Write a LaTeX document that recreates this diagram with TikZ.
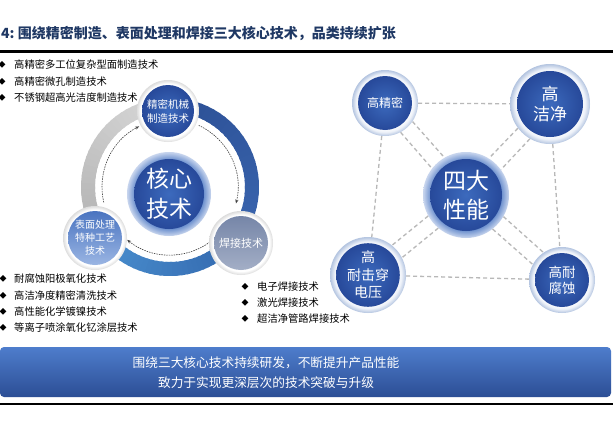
\documentclass[tikz,border=0pt]{standalone}
\usepackage{fontspec}
\newfontfamily\cjk{Noto Sans CJK SC}
\usetikzlibrary{arrows.meta,backgrounds}
\definecolor{navy}{HTML}{1F3864}
\definecolor{haloedge}{HTML}{B3C4E0}
\definecolor{halomid}{HTML}{EEF2F9}
\definecolor{plainedge}{HTML}{DCDCDC}
\definecolor{cc1}{HTML}{5F86C9}
\definecolor{cc2}{HTML}{C9D6EE}
\definecolor{discin}{HTML}{3C6ABD}
\definecolor{discout}{HTML}{27499A}
\definecolor{netgray}{HTML}{B8B8B8}
\definecolor{bannertop}{HTML}{4E7DCC}
\definecolor{bannerbot}{HTML}{2C4E95}
\definecolor{ringblueA}{HTML}{2C4F94}
\definecolor{ringblueB}{HTML}{3A66B0}
\definecolor{ringbotA}{HTML}{3368AE}
\definecolor{ringbotB}{HTML}{4A8FCF}
\definecolor{ringgrayA}{HTML}{B2B2B2}
\definecolor{ringgrayB}{HTML}{D8D8D8}
\definecolor{lctop}{HTML}{4A74C0}
\definecolor{lcbot}{HTML}{9AB5E3}
\definecolor{rctop}{HTML}{7686A8}
\definecolor{rcbot}{HTML}{A3AEC6}
\pgfdeclareradialshading{haloshade}{\pgfpoint{0bp}{0bp}}{color(0bp)=(white); color(19bp)=(white); color(22bp)=(halomid); color(25bp)=(haloedge); color(50bp)=(haloedge)}
\pgfdeclareradialshading{plainshade}{\pgfpoint{0bp}{0bp}}{color(0bp)=(white); color(22bp)=(white); color(25bp)=(plainedge); color(50bp)=(plainedge)}
\pgfdeclareradialshading{coreshade}{\pgfpoint{0bp}{0bp}}{color(0bp)=(cc1); color(20bp)=(cc1); color(25bp)=(cc2); color(50bp)=(cc2)}
\newcommand\gradarc[4]{%
  \foreach \i in {0,...,29}{%
    \pgfmathsetmacro\aa{#1+(#2-#1)*\i/30}%
    \pgfmathsetmacro\ab{min(#2,#1+(#2-#1)*(\i+1.4)/30)}%
    \pgfmathsetmacro\pp{100-\i*100/29}%
    \draw[line width=14pt, color=#3!\pp!#4] (170,187) ++(\aa:82) arc[start angle=\aa, end angle=\ab, radius=82];
  }}
\tikzset{
  fs/.style 2 args={font=\cjk\fontsize{#1}{#2}\selectfont},
  halo/.style={circle, inner sep=0pt, minimum size=#1, shading=haloshade},
  whitehalo/.style={circle, inner sep=0pt, minimum size=#1, shading=plainshade},
  corehalo/.style={circle, inner sep=0pt, minimum size=#1, shading=coreshade},
  disc/.style={circle, inner sep=0pt, minimum size=#1, inner color=discin, outer color=discout, text=white, align=center},
  netline/.style={draw=netgray, line width=1.3pt, dash pattern=on 4pt off 3pt},
  dasharc/.style={draw=black!75, line width=0.6pt, dash pattern=on 1.5pt off 1pt, -{Stealth[length=4pt,width=3.2pt]}},
  bullet/.style={fs={7}{8}, inner sep=0pt},
  item/.style={fs={10.3}{12}, anchor=west, inner sep=0pt},
}
\begin{document}
\begin{tikzpicture}[x=1pt,y=-1pt]
\useasboundingbox (0,0) rectangle (613,423);
\begin{scope}[on background layer]
  \fill[white] (0,0) rectangle (613,423);
\end{scope}
% title
\node[fs={14}{16}, text=navy, anchor=west, inner sep=0pt] (title) at (1,33) {\bfseries 4:\ 围绕精密制造、表面处理和焊接三大核心技术，品类持续扩张};
\draw[line width=2.2pt] (0,51.5) -- (613,51.5);
% ring
\gradarc{-91.5}{38.3}{ringblueA}{ringblueB}
\gradarc{38.3}{145.8}{ringbotA}{ringbotB}
\gradarc{145.8}{268.5}{ringgrayA}{ringgrayB}
% dashed arrows
\draw[dasharc] (170,187) ++(-65:68) arc[start angle=-65, end angle=14, radius=68];
\draw[dasharc] (170,187) ++(54:68) arc[start angle=54, end angle=129, radius=68];
\draw[dasharc] (170,187) ++(167:68) arc[start angle=167, end angle=243, radius=68];
% ring circles
\node[whitehalo=62pt] (TC) at (168,111) {};
\node[disc=52pt, fs={10.5}{14}] (TCt) at (TC) {精密机械\\制造技术};
\node[whitehalo=64pt] (LC) at (95,238) {};
\node[circle, inner sep=0pt, minimum size=54pt, top color=lctop, bottom color=lcbot, text=white, align=center, fs={10}{13}] (LCt) at (LC) {表面处理\\特种工艺\\技术};
\node[whitehalo=64pt] (RC) at (241,243) {};
\node[circle, inner sep=0pt, minimum size=54pt, top color=rctop, bottom color=rcbot, text=white, align=center, fs={11}{13}] (RCt) at (RC) {焊接技术};
\node[corehalo=84pt] (CC) at (169,194) {};
\node[disc=70pt, fs={23}{30}] (CCt) at (CC) {核心\\技术};
% bullet lists
\node[bullet] (b11) at (2,65) {◆};
\node[item] (t11) at (14,65) {高精密多工位复杂型面制造技术};
\node[bullet] (b12) at (2,82) {◆};
\node[item] (t12) at (14,82) {高精密微孔制造技术};
\node[bullet] (b13) at (2,98) {◆};
\node[item] (t13) at (14,98) {不锈钢超高光洁度制造技术};
\node[bullet] (b21) at (3,279) {◆};
\node[item] (t21) at (14,279) {耐腐蚀阳极氧化技术};
\node[bullet] (b22) at (3,296) {◆};
\node[item] (t22) at (14,296) {高洁净度精密清洗技术};
\node[bullet] (b23) at (3,312) {◆};
\node[item] (t23) at (14,312) {高性能化学镀镍技术};
\node[bullet] (b24) at (3,328) {◆};
\node[item] (t24) at (14,328) {等离子喷涂氧化钇涂层技术};
\node[bullet] (b31) at (245,287) {◆};
\node[item] (t31) at (257,287) {电子焊接技术};
\node[bullet] (b32) at (245,303) {◆};
\node[item] (t32) at (257,303) {激光焊接技术};
\node[bullet] (b33) at (245,319) {◆};
\node[item] (t33) at (257,319) {超洁净管路焊接技术};
% network
\node[halo=66pt] (JM) at (385,103) {};
\node[disc=54pt, fs={12}{14}] (JMt) at (JM) {高精密};
\node[halo=80pt] (GJ) at (550,104) {};
\node[disc=66pt, fs={17}{20}] (GJt) at (GJ) {高\\洁净};
\node[corehalo=86pt] (SD) at (466,195) {};
\node[disc=72pt, fs={23}{29}] (SDt) at (SD) {四大\\性能};
\node[halo=76pt] (JC) at (368,275) {};
\node[disc=62pt, fs={14}{17.5}] (JCt) at (JC) {高\\耐击穿\\电压};
\node[halo=66pt] (FS) at (562,280) {};
\node[disc=54pt, fs={13.5}{16}] (FSt) at (FS) {高耐\\腐蚀};
\begin{scope}[on background layer]
  \draw[netline] (JM) -- (GJ);
  \draw[netline] (JM) -- (JC);
  \draw[netline] (GJ) -- (FS);
  \draw[netline] (JC) -- (FS);
  \draw[netline] (JM.-34.6) -- (SD.120.7);
  \draw[netline] (JM.-62.6) -- (SD.142.1);
  \draw[netline] (GJ.-120.9) -- (SD.36.9);
  \draw[netline] (GJ.-143.9) -- (SD.58.3);
  \draw[netline] (SD.-130.1) -- (JC.27.0);
  \draw[netline] (SD.-151.5) -- (JC.51.4);
  \draw[netline] (SD.-30.8) -- (FS.124.5);
  \draw[netline] (SD.-52.2) -- (FS.152.5);
\end{scope}
% banner
\shade[top color=bannertop, bottom color=bannerbot, rounded corners=4pt] (0,347) rectangle (611,397);
\node[fs={12.7}{14}, text=white, inner sep=0pt] (ban1) at (266,363) {围绕三大核心技术持续研发，不断提升产品性能};
\node[fs={12.7}{14}, text=white, inner sep=0pt] (ban2) at (266,383) {致力于实现更深层次的技术突破与升级};
\draw[line width=2pt] (0,404) -- (613,404);
\end{tikzpicture}
\end{document}
